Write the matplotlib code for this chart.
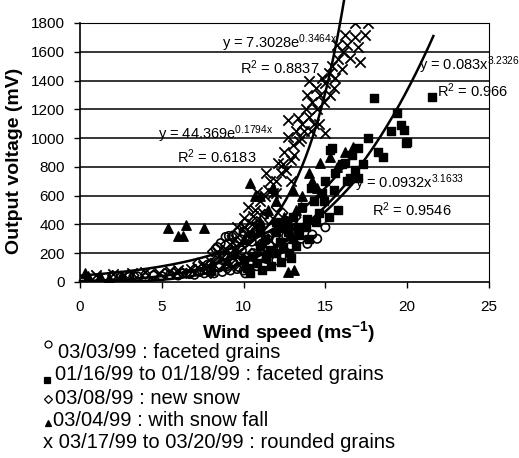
import numpy as np
import matplotlib
matplotlib.use('Agg')
import matplotlib.pyplot as plt
from matplotlib.lines import Line2D

plt.rcParams['font.family'] = ['Liberation Sans', 'DejaVu Sans']
plt.rcParams['mathtext.default'] = 'regular'

## DATA
# 03/03/99 : faceted grains (open circles)
circ_x = [3.0, 3.5, 4.0, 4.5, 5.0, 5.5, 6.0, 6.3, 6.7, 7.0, 7.3, 7.6, 8.0, 8.2, 8.5, 8.7, 9.0, 9.2,
          9.4, 9.6, 9.8, 10.0, 10.2, 10.4, 10.6, 10.8, 11.0, 11.2, 11.4, 11.6, 11.8, 12.0, 12.3, 12.6,
          12.9, 13.2, 13.5, 13.9, 14.2, 14.5, 15.0, 10.1, 9.9, 11.5, 12.0, 8.8, 9.5, 10.5, 12.5, 13.0,
          8.3, 8.6, 7.8, 9.1, 10.0, 11.0, 8.4, 8.9, 9.7, 11.2]
circ_y = [35, 40, 30, 45, 40, 50, 45, 60, 55, 50, 70, 60, 80, 60, 100, 70, 110, 80,
          130, 90, 150, 80, 170, 120, 200, 110, 180, 230, 160, 250, 200, 290, 230, 320,
          250, 380, 300, 265, 330, 300, 380, 60, 220, 320, 150, 180, 250, 280, 180, 420,
          230, 270, 120, 320, 350, 400, 243, 313, 104, 222]

# 01/16/99 to 01/18/99 : faceted grains (filled squares)
sq_x = [10.0, 10.5, 11.0, 11.3, 11.6, 12.0, 12.2, 12.5, 12.7, 13.0, 13.3, 13.6, 13.9, 14.1, 14.3,
        14.6, 14.8, 15.0, 15.3, 15.4, 15.6, 15.8, 16.0, 16.2, 16.3, 16.6, 16.8, 17.0, 17.3, 17.6,
        18.0, 18.2, 18.5, 19.0, 19.4, 19.6, 19.8, 19.9, 20.0, 21.5, 14.0, 13.2, 12.8, 15.2,
        10.2, 10.8, 11.4, 11.9, 12.4, 13.0, 13.4, 11.0, 12.0, 13.8, 14.4, 14.9, 15.5, 16.5, 17.0,
        10.4, 11.1, 11.7, 12.3, 12.9]
sq_y = [150, 180, 250, 300, 220, 350, 280, 400, 348, 450, 380, 520, 440, 653, 560,
        480, 620, 700, 917, 931, 760, 500, 820, 827, 700, 880, 780, 930, 820, 1000,
        1279, 900, 869, 1050, 1174, 1091, 1056, 966, 973, 1286, 300, 250, 200, 450,
        100, 130, 170, 200, 240, 300, 330, 350, 420, 380, 420, 560, 640, 720, 720,
        60, 80, 110, 140, 170]

# 03/08/99 : new snow (open diamonds)
dia_x = [2.0, 2.5, 3.0, 3.3, 4.0, 4.5, 5.2, 5.7, 6.2, 6.5, 7.0, 7.5, 7.8, 8.0, 8.3, 8.5, 8.7,
         9.0, 9.2, 9.4, 9.6, 9.8, 10.0, 10.2, 10.4, 10.6, 10.8, 11.0, 11.3, 11.6, 12.0, 12.4,
         7.2, 8.1, 8.9, 9.3, 10.1, 9.7, 8.0, 9.0, 9.5, 10.0, 10.5, 11.0, 11.5, 12.0, 12.7, 13.2]
dia_y = [45, 40, 50, 45, 55, 50, 60, 65, 70, 60, 90, 100, 80, 130, 150, 120, 200,
         170, 230, 190, 280, 240, 330, 290, 380, 340, 420, 380, 470, 430, 520, 480,
         130, 210, 260, 320, 410, 360, 60, 90, 120, 160, 200, 260, 300, 350, 420, 450]

# 03/04/99 : with snow fall (filled triangles)
tri_x = [0.3, 0.5, 1.2, 1.8, 2.5, 5.4, 6.0, 6.3, 6.5, 7.6, 10.4, 10.7, 11.0, 12.7, 13.1, 14.7,
         15.3, 16.7, 14.2, 13.5, 12.5, 11.5, 9.5, 9.0, 8.0, 12.0, 13.0, 14.0, 15.7, 16.2, 13.6,
         10.0, 10.5, 11.2, 12.2, 12.8, 13.2, 14.5, 11.8, 11.0]
tri_y = [60, 40, 45, 30, 40, 375, 320, 320, 396, 375, 688, 600, 420, 70, 83, 830,
         869, 938, 700, 520, 450, 500, 200, 150, 80, 560, 640, 760, 800, 900, 600,
         300, 350, 300, 380, 400, 500, 650, 650, 600]

# 03/17/99 to 03/20/99 : rounded grains (x)
x_x = [1.0, 2.0, 3.2, 4.0, 4.8, 5.5, 6.0, 6.8, 7.5, 8.0, 8.5, 9.0, 9.3, 9.6, 10.0, 10.2, 10.5,
       10.8, 10.7, 11.0, 11.2, 11.5, 11.8, 12.0, 12.1, 12.3, 12.5, 12.7, 12.7, 12.9, 13.0, 13.3,
       13.2, 13.5, 13.6, 13.8, 14.0, 14.2, 14.4, 14.5, 14.7, 14.8, 15.0, 15.0, 15.2, 15.4, 15.6,
       15.8, 16.0, 16.1, 16.3, 16.5, 16.8, 16.8, 17.0, 17.1, 17.4, 17.6, 13.9, 14.3, 12.9, 11.4,
       9.5, 10.0, 10.3, 10.6, 11.3, 11.6, 12.0, 12.4, 12.6, 13.1, 13.4, 13.7, 14.1, 14.6, 14.9,
       15.3, 15.5, 15.7, 16.2, 14.0]
x_y = [50, 55, 60, 70, 65, 75, 80, 90, 110, 140, 180, 220, 280, 382, 445, 330, 400,
       625, 500, 560, 480, 640, 618, 700, 827, 760, 900, 1008, 1126, 850, 950, 1140,
       1050, 1000, 1100, 1200, 1150, 1250, 1350, 1200, 1300, 1420, 1035, 1380, 1450, 1500, 1420,
       1550, 1480, 1598, 1650, 1560, 1700, 1800, 1633, 1529, 1717, 1800, 1300, 1100, 700, 760,
       300, 380, 520, 460, 600, 700, 620, 820, 780, 880, 980, 1050, 1050, 1100, 1250,
       1300, 1350, 1650, 1720, 1400]

# trendlines printed on the chart
exp_round = (7.3028, 0.3464)
exp_snow = (44.369, 0.1794)
pow_jan = (0.083, 3.2326)
pow_mar3 = (0.0932, 3.1633)

fig = plt.figure(figsize=(5.19, 4.58), dpi=100)
ax = fig.add_axes([0.1541, 0.3843, 0.7881, 0.5655])

ax.scatter(circ_x, circ_y, s=36, marker='o', facecolors='none', edgecolors='black', linewidths=1.2, zorder=3)
ax.scatter(dia_x, dia_y, s=24, marker='D', facecolors='none', edgecolors='black', linewidths=1.2, zorder=3)
ax.scatter(sq_x, sq_y, s=34, marker='s', color='black', zorder=3)
ax.scatter(tri_x, tri_y, s=46, marker='^', color='black', zorder=3)
ax.scatter(x_x, x_y, s=55, marker='x', color='black', linewidths=1.3, zorder=3)

# trend lines
xs = np.linspace(0, 16.15, 200)
ax.plot(xs, exp_round[0] * np.exp(exp_round[1] * xs), color='black', lw=1.8, clip_on=False, zorder=4)
xs = np.linspace(0, 16.7, 200)
ax.plot(xs, exp_snow[0] * np.exp(exp_snow[1] * xs), color='black', lw=1.8, zorder=4)
xs = np.linspace(9.5, 21.6, 200)
ax.plot(xs, pow_jan[0] * xs ** pow_jan[1], color='black', lw=1.8, zorder=4)
xs = np.linspace(2, 17, 200)
ax.plot(xs, pow_mar3[0] * xs ** pow_mar3[1], color='black', lw=1.8, zorder=4)

# equation labels
fs = 10.5
ax.text(8.68, 1661, 'y = 7.3028e$^{0.3464x}$', fontsize=fs, va='center', zorder=5)
ax.text(9.78, 1487, 'R$^{2}$ = 0.8837', fontsize=fs, va='center', zorder=5)
ax.text(4.77, 1030, 'y = 44.369e$^{0.1794x}$', fontsize=fs, va='center', zorder=5)
ax.text(5.93, 869, 'R$^{2}$ = 0.6183', fontsize=fs, va='center', zorder=5)
ax.text(20.75, 1508, 'y = 0.083x$^{3.2326}$', fontsize=fs, va='center', zorder=5, clip_on=False)
ax.text(21.8, 1327, 'R$^{2}$ = 0.966', fontsize=fs, va='center', zorder=5)
ax.text(16.8, 688, 'y = 0.0932x$^{3.1633}$', fontsize=fs, va='center', zorder=5)
ax.text(17.85, 500, 'R$^{2}$ = 0.9546', fontsize=fs, va='center', zorder=5)

ax.set_xlim(0, 25)
ax.set_ylim(0, 1800)
ax.set_xticks([0, 5, 10, 15, 20, 25])
ax.set_yticks(np.arange(0, 1801, 200))
ax.tick_params(axis='both', labelsize=11, direction='out', length=4, width=1)
ax.tick_params(axis='y', pad=7)
ax.tick_params(axis='x', pad=9)
for yv in range(200, 1800, 200):
    ax.axhline(yv, color='black', lw=1.1, zorder=1)
ax.spines['top'].set_linestyle((0, (1, 1)))
ax.spines['right'].set_linestyle((0, (1, 1)))
ax.spines['top'].set_linewidth(0.8)
ax.spines['right'].set_linewidth(0.8)
ax.spines['left'].set_linewidth(1.2)
ax.spines['bottom'].set_linewidth(1.2)

fig.text(15 / 519, 1 - 161 / 458, 'Output voltage (mV)', rotation=90, fontsize=14,
         fontweight='bold', ha='center', va='center')
fig.text(289 / 519, 1 - 332 / 458, 'Wind speed (ms$^{-1}$)', fontsize=14,
         fontweight='bold', ha='center', va='center')

# legend under the chart
leg_text = ['03/03/99 : faceted grains', '01/16/99 to 01/18/99 : faceted grains',
            '03/08/99 : new snow', '03/04/99 : with snow fall',
            'x 03/17/99 to 03/20/99 : rounded grains']
leg_text_x = [58, 55, 55, 53, 43]
leg_y = [353, 375, 398, 421, 442]
leg_mk = [('o', 'none', 5, 344), ('s', 'black', 4.5, 380), ('D', 'none', 4, 399), ('^', 'black', 5, 423)]
for (m, fc, ms, my), tx in zip(leg_mk, [48, 47, 48, 48]):
    fig.add_artist(Line2D([tx / 519], [1 - my / 458], marker=m, markersize=ms, markerfacecolor=fc,
                          markeredgecolor='black', markeredgewidth=0.9, transform=fig.transFigure))
for t, lx, ly in zip(leg_text, leg_text_x, leg_y):
    fig.text(lx / 519, 1 - ly / 458, t, fontsize=14.5, ha='left', va='center')

fig.savefig('out.png', dpi=100)
